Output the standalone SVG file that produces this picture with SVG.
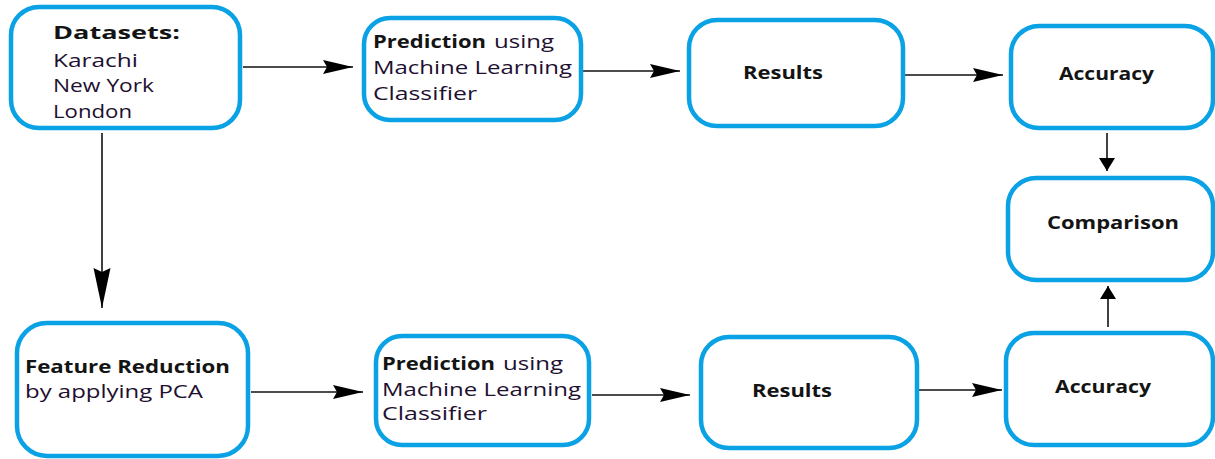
<svg xmlns="http://www.w3.org/2000/svg" width="1215" height="459" viewBox="0 0 1215 459">
<style>
.box{fill:#fff;stroke:#0aa2e4;stroke-width:4.5}
.t{font-family:"Open Sans","Liberation Sans",sans-serif;font-size:18px;fill:#1e1030}
.b{font-family:"Open Sans","Liberation Sans",sans-serif;font-size:17.5px;font-weight:bold;fill:#141414}
.con{stroke:#111;stroke-width:1.6;fill:none}
</style>
<defs>
<marker id="ah" markerUnits="userSpaceOnUse" markerWidth="32" markerHeight="16" refX="30" refY="7" orient="auto">
<path d="M0,0 L30,7 L0,14 L4,7 Z" fill="#000"/>
</marker>
<marker id="ahl" markerUnits="userSpaceOnUse" markerWidth="42" markerHeight="20" refX="40" refY="8.5" orient="auto">
<path d="M0,0 L40,8.5 L0,17 L4,8.5 Z" fill="#000"/>
</marker>
<marker id="ahs" markerUnits="userSpaceOnUse" markerWidth="16" markerHeight="18" refX="13" refY="8" orient="auto">
<path d="M0,0 L13,8 L0,16 Z" fill="#000"/>
</marker>
</defs>
<g id="connectors">
<line class="con" x1="243" y1="67" x2="353" y2="67" marker-end="url(#ah)"/>
<line class="con" x1="582" y1="71" x2="680" y2="71" marker-end="url(#ah)"/>
<line class="con" x1="905" y1="75" x2="1003" y2="75" marker-end="url(#ah)"/>
<line class="con" x1="102" y1="133" x2="102" y2="308" marker-end="url(#ahl)"/>
<line class="con" x1="251" y1="392" x2="363" y2="392" marker-end="url(#ah)"/>
<line class="con" x1="592" y1="395" x2="690" y2="395" marker-end="url(#ah)"/>
<line class="con" x1="918" y1="390" x2="1002" y2="390" marker-end="url(#ah)"/>
<line class="con" x1="1107" y1="133" x2="1107" y2="171" marker-end="url(#ahs)"/>
<line class="con" x1="1108" y1="327" x2="1108" y2="286" marker-end="url(#ahs)"/>
</g>
<g id="datasets">
<rect class="box" x="11" y="7" width="229" height="121" rx="28"/>
<text class="b" x="53" y="39" font-size="21" textLength="127" lengthAdjust="spacingAndGlyphs">Datasets:</text>
<text class="t" x="53" y="67" textLength="85" lengthAdjust="spacingAndGlyphs">Karachi</text>
<text class="t" x="53" y="92" textLength="101" lengthAdjust="spacingAndGlyphs">New York</text>
<text class="t" x="53" y="118" textLength="79" lengthAdjust="spacingAndGlyphs">London</text>
</g>
<g id="prediction1">
<rect class="box" x="364" y="18" width="217" height="102" rx="26"/>
<text class="b" x="373" y="48" textLength="113" lengthAdjust="spacingAndGlyphs">Prediction</text>
<text class="t" x="494" y="48" textLength="60" lengthAdjust="spacingAndGlyphs">using</text>
<text class="t" x="373" y="74" textLength="199" lengthAdjust="spacingAndGlyphs">Machine Learning</text>
<text class="t" x="373" y="100" textLength="104" lengthAdjust="spacingAndGlyphs">Classifier</text>
</g>
<g id="results1">
<rect class="box" x="689" y="20" width="214" height="106" rx="28"/>
<text class="b" x="743" y="79" textLength="80" lengthAdjust="spacingAndGlyphs">Results</text>
</g>
<g id="accuracy1">
<rect class="box" x="1011" y="26" width="202" height="102" rx="28"/>
<text class="b" x="1059" y="80" textLength="95" lengthAdjust="spacingAndGlyphs">Accuracy</text>
</g>
<g id="comparison">
<rect class="box" x="1008" y="178" width="205" height="102" rx="28"/>
<text class="b" x="1047" y="229" textLength="132" lengthAdjust="spacingAndGlyphs">Comparison</text>
</g>
<g id="feature-reduction">
<rect class="box" x="17" y="323" width="231" height="133" rx="30"/>
<text class="b" x="25" y="373" textLength="205" lengthAdjust="spacingAndGlyphs">Feature Reduction</text>
<text class="t" x="25" y="398" textLength="178" lengthAdjust="spacingAndGlyphs">by applying PCA</text>
</g>
<g id="prediction2">
<rect class="box" x="376" y="336" width="213" height="109" rx="26"/>
<text class="b" x="382" y="370" textLength="113" lengthAdjust="spacingAndGlyphs">Prediction</text>
<text class="t" x="503" y="370" textLength="60" lengthAdjust="spacingAndGlyphs">using</text>
<text class="t" x="382" y="396" textLength="199" lengthAdjust="spacingAndGlyphs">Machine Learning</text>
<text class="t" x="382" y="420" textLength="105" lengthAdjust="spacingAndGlyphs">Classifier</text>
</g>
<g id="results2">
<rect class="box" x="701" y="337" width="216" height="111" rx="28"/>
<text class="b" x="752" y="397" textLength="80" lengthAdjust="spacingAndGlyphs">Results</text>
</g>
<g id="accuracy2">
<rect class="box" x="1006" y="333" width="207" height="112" rx="28"/>
<text class="b" x="1055" y="393" textLength="96" lengthAdjust="spacingAndGlyphs">Accuracy</text>
</g>
</svg>
